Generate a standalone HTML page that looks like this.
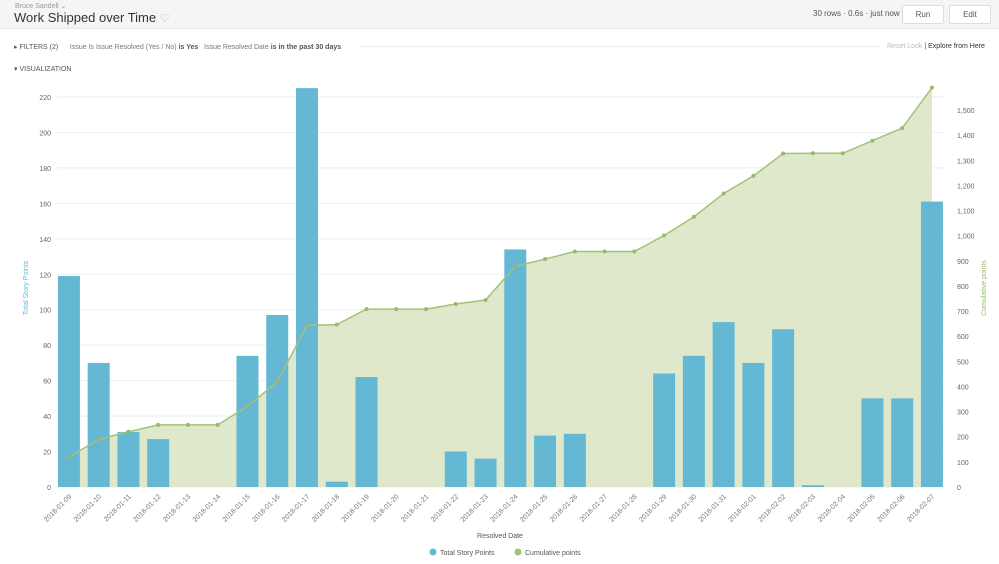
<!DOCTYPE html>
<html><head><meta charset="utf-8"><style>
body{margin:0;width:999px;height:564px;background:#fff;font-family:"Liberation Sans",sans-serif;overflow:hidden;position:relative}
.hdr{position:absolute;left:0;top:0;width:999px;height:28px;background:#f5f5f6;border-bottom:1px solid #e8e8e8}
.t{position:absolute;color:#333}
.btn{position:absolute;top:5px;height:17px;border:1px solid #ddd;background:#fff;border-radius:2px;font-size:8px;color:#555;text-align:center;line-height:17px}
</style></head><body>
<div class="hdr"></div>
<div class="t" style="left:15px;top:2px;font-size:7px;color:#999">Bruce Sandell ⌄</div>
<div class="t" style="left:14px;top:10px;font-size:13px;color:#333">Work Shipped over Time <span style="color:#aaa;font-size:11px">♡</span></div>
<div class="t" style="left:813px;top:9px;font-size:8px;color:#555">30 rows · 0.6s · just now</div>
<div class="btn" style="left:902px;width:40px">Run</div>
<div class="btn" style="left:949px;width:40px">Edit</div>
<div class="t" style="left:14px;top:43px;font-size:7px;color:#555">▸ FILTERS (2) &nbsp;&nbsp;&nbsp;&nbsp; <span style="color:#777">Issue Is Issue Resolved (Yes / No)</span> <b>is Yes</b> &nbsp; <span style="color:#777">Issue Resolved Date</span> <b>is in the past 30 days</b></div>
<div style="position:absolute;left:360px;top:46px;width:520px;border-top:1px solid #eee"></div>
<div class="t" style="left:887px;top:43px;font-size:7px;color:#bbb">Reset Look <span style="color:#555">|</span> <span style="color:#333">Explore from Here</span></div>
<div class="t" style="left:14px;top:65px;font-size:7px;color:#555">▾ VISUALIZATION</div>
<svg id="c" width="999" height="564" style="position:absolute;left:0;top:0"></svg>
<script>
const categories=["2018-01-09","2018-01-10","2018-01-11","2018-01-12","2018-01-13","2018-01-14","2018-01-15","2018-01-16","2018-01-17","2018-01-18","2018-01-19","2018-01-20","2018-01-21","2018-01-22","2018-01-23","2018-01-24","2018-01-25","2018-01-26","2018-01-27","2018-01-28","2018-01-29","2018-01-30","2018-01-31","2018-02-01","2018-02-02","2018-02-03","2018-02-04","2018-02-05","2018-02-06","2018-02-07"];
const storyPoints=[119,70,31,27,0,0,74,97,225,3,62,0,0,20,16,134,29,30,0,0,64,74,93,70,89,1,0,50,50,161];
const cumulative=[119,189,220,247,247,247,321,418,643,646,708,708,708,728,744,878,907,937,937,937,1001,1075,1168,1238,1327,1328,1328,1378,1428,1589];
const leftTicks=[0,20,40,60,80,100,120,140,160,180,200,220];
const rightTicks=[0,100,200,300,400,500,600,700,800,900,1000,1100,1200,1300,1400,1500];
const svg=document.getElementById('c');const NS='http://www.w3.org/2000/svg';
function mk(t,a,p){const e=document.createElementNS(NS,t);for(const k in a)e.setAttribute(k,a[k]);(p||svg).appendChild(e);return e;}
const x0=57,step=29.76,base=487;
const xc=i=>x0+step*(i+0.4);
const yL=v=>base-v*1.7727;
const yR=v=>base-v*0.2513;
leftTicks.forEach(v=>{const g=mk('line',{x1:x0,x2:945,y1:yL(v),y2:yL(v),stroke:'#eee'});
const t=mk('text',{x:51,y:yL(v)+3,'font-size':7,fill:'#666','text-anchor':'end'});t.textContent=v;});
rightTicks.forEach(v=>{const t=mk('text',{x:957,y:yR(v)+3,'font-size':7,fill:'#666'});t.textContent=v.toLocaleString('en-US');});
let d='M'+xc(0)+','+base;cumulative.forEach((v,i)=>d+=' L'+xc(i)+','+yR(v));d+=' L'+xc(cumulative.length-1)+','+base+'Z';
const area=mk('path',{d:d,fill:'#dfe8cb'});
storyPoints.forEach((v,i)=>{const r=mk('rect',{x:xc(i)-11,y:yL(v),width:22,height:v*1.7727,fill:'#64b8d3'});});
const line=mk('polyline',{points:cumulative.map((v,i)=>xc(i)+','+yR(v)).join(' '),fill:'none',stroke:'#a2c27a','stroke-width':1.5});
cumulative.forEach((v,i)=>{const c=mk('circle',{cx:xc(i),cy:yR(v),r:2,fill:'#98b96a'});});
categories.forEach((c,i)=>{const t=mk('text',{x:xc(i)+3,y:497,'font-size':7,fill:'#777','text-anchor':'end',transform:`rotate(-45 ${xc(i)+3} 497)`});t.textContent=c;});
let t=mk('text',{x:500,y:538,'font-size':7,fill:'#555','text-anchor':'middle'});t.textContent='Resolved Date';
t=mk('text',{x:28,y:288,'font-size':7,fill:'#64b8d3','text-anchor':'middle',transform:'rotate(-90 28 288)'});t.textContent='Total Story Points';
t=mk('text',{x:986,y:288,'font-size':7,fill:'#98b96a','text-anchor':'middle',transform:'rotate(-90 986 288)'});t.textContent='Cumulative points';
let c=mk('circle',{cx:433,cy:552,r:3.5,fill:'#64b8d3'});
t=mk('text',{x:440,y:555,'font-size':7,fill:'#555'});t.textContent='Total Story Points';
c=mk('circle',{cx:518,cy:552,r:3.5,fill:'#a2c27a'});
t=mk('text',{x:525,y:555,'font-size':7,fill:'#555'});t.textContent='Cumulative points';
</script>
</body></html>
